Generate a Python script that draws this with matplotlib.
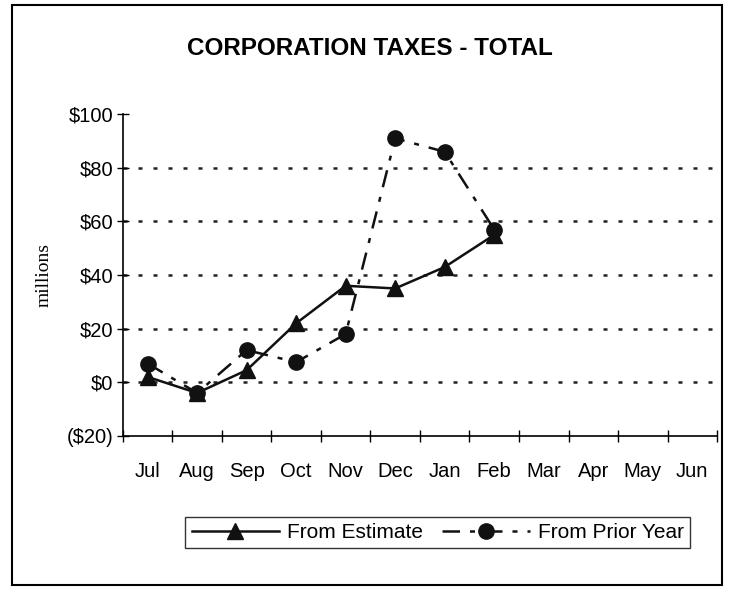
import matplotlib.pyplot as plt
from matplotlib.patches import Rectangle

months = ['Jul', 'Aug', 'Sep', 'Oct', 'Nov', 'Dec', 'Jan', 'Feb', 'Mar', 'Apr', 'May', 'Jun']
from_estimate = [2, -4, 4.5, 22, 36, 35, 43, 55]
from_prior_year = [7, -4, 12, 7.5, 18, 91, 86, 57]
y_ticks = [-20, 0, 20, 40, 60, 80, 100]
y_tick_labels = ['($20)', '$0', '$20', '$40', '$60', '$80', '$100']

plt.rcParams['font.family'] = ['Liberation Sans', 'DejaVu Sans']

fig = plt.figure(figsize=(7.4, 5.89), dpi=100)
ax = fig.add_axes([0.166, 0.26, 0.803, 0.546])

# rahmen um das ganze bild
fig.patches.append(Rectangle((12 / 740, 4 / 589), 710 / 740, 580 / 589,
                             transform=fig.transFigure, fill=False,
                             edgecolor='black', linewidth=1.5))

# gepunktete gitterlinien
for y in y_ticks[1:-1]:
    ax.axhline(y, color='#222222', linewidth=1.8, linestyle=(0, (1.6, 4.4)), zorder=1)

x_est = range(len(from_estimate))
x_prior = range(len(from_prior_year))
ax.plot(x_est, from_estimate, color='#111111', linewidth=1.8, marker='^',
        markersize=11, label='From Estimate', zorder=3)
ax.plot(x_prior, from_prior_year, color='#111111', linewidth=1.8,
        linestyle=(0, (7, 4, 2, 4)), marker='o', markersize=11,
        label='From Prior Year', zorder=3)

ax.set_xlim(-0.5, len(months) - 0.5)
ax.set_ylim(-20, 100)
ax.set_xticks(range(len(months)))
ax.set_xticklabels(months, fontsize=14.5)
ax.set_xticks([i - 0.5 for i in range(len(months) + 1)], minor=True)
ax.tick_params(axis='x', which='major', length=0, pad=19)
ax.tick_params(axis='x', which='minor', length=8, direction='inout', width=1)
ax.set_yticks(y_ticks)
ax.set_yticklabels(y_tick_labels, fontsize=14.5)
ax.tick_params(axis='y', length=8, direction='inout', width=1, pad=3)

for side in ['top', 'right']:
    ax.spines[side].set_visible(False)
for side in ['left', 'bottom']:
    ax.spines[side].set_linewidth(1.2)

ax.set_ylabel('millions', fontsize=14, family=['Liberation Serif', 'DejaVu Serif'],
              labelpad=10)

fig.text(0.5, 0.917, 'CORPORATION TAXES - TOTAL', ha='center', va='center',
         fontsize=17.5, fontweight='bold')

ax.legend(loc='center', bbox_to_anchor=(0.53, -0.30), ncol=2, frameon=True,
          fancybox=False, edgecolor='black', fontsize=15, handlelength=4.2,
          columnspacing=0.9, handletextpad=0.4, borderpad=0.3)

fig.savefig('out.png', dpi=100)
